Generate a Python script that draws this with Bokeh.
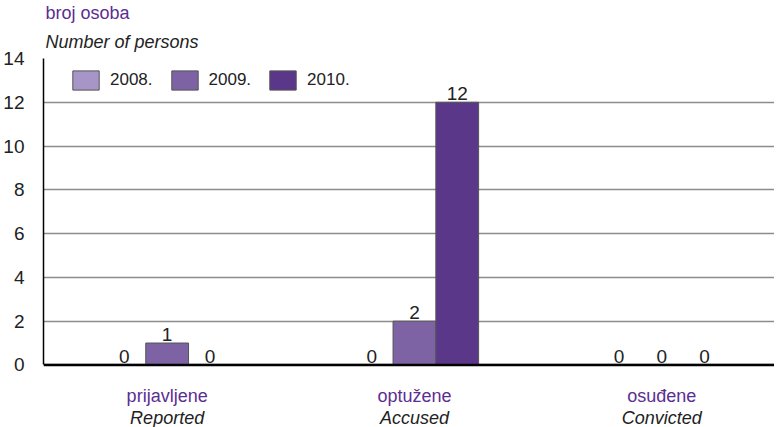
from bokeh.plotting import figure
from bokeh.models import (Range1d, FixedTicker, ColumnDataSource,
                          Legend, LegendItem, Title, Span)
from bokeh.core.properties import value
from bokeh.embed import file_html
from bokeh.resources import INLINE

categories_hr = ["prijavljene", "optužene", "osuđene"]
categories_en = ["Reported", "Accused", "Convicted"]
years = ["2008.", "2009.", "2010."]
values_2008 = [0, 0, 0]
values_2009 = [1, 2, 0]
values_2010 = [0, 12, 0]
y_ticks = [0, 2, 4, 6, 8, 10, 12, 14]

colors = ["#a695c6", "#7d63a3", "#5b3789"]
purple_text = "#5b2e91"
FONT = "Liberation Sans"

centers = [0.5, 1.5, 2.5]
bw = 0.173
offsets = [-bw, 0.0, bw]
series = [values_2008, values_2009, values_2010]

# y range extends below 0 so the category labels sit inside the frame
p = figure(width=774, height=427, output_backend="svg", toolbar_location=None,
           x_range=Range1d(0, 2.956), y_range=Range1d(-2.86, 14),
           x_axis_location=None, y_axis_location="left",
           min_border_left=38, min_border_right=0, min_border_top=0,
           min_border_bottom=0, outline_line_color=None)

p.xgrid.visible = False
p.ygrid.ticker = FixedTicker(ticks=y_ticks)
p.ygrid.grid_line_color = "#8c8c8c"
p.ygrid.grid_line_width = 1.5

ya = p.yaxis[0]
ya.ticker = FixedTicker(ticks=y_ticks)
ya.bounds = (0, 14)
ya.axis_line_color = "black"
ya.axis_line_width = 1.5
ya.major_tick_line_color = None
ya.minor_tick_line_color = None
ya.major_label_text_font = FONT
ya.major_label_text_font_size = "19px"
ya.major_label_text_color = "#222222"
ya.major_label_standoff = 13

renderers = []
for i, vals in enumerate(series):
    xs = [c + offsets[i] for c in centers]
    src = ColumnDataSource(dict(x=xs, top=vals, lab=[str(v) for v in vals]))
    r = p.vbar(x="x", top="top", width=bw, source=src, fill_color=colors[i],
               line_color="#555555", line_width=1)
    renderers.append(r)
    p.text(x="x", y="top", text="lab", source=src, text_align="center",
           text_baseline="bottom", y_offset=-2, text_font=value(FONT),
           text_font_size="19px", text_color="#222222")

# baseline (x axis line)
p.add_layout(Span(location=0, dimension="width", line_color="black", line_width=2.5))

# category labels
cat_src = ColumnDataSource(dict(x=centers, y=[0] * len(centers),
                                hr=categories_hr, en=categories_en))
p.text(x="x", y="y", text="hr", source=cat_src, text_align="center",
       text_baseline="middle", y_offset=31, text_font=value(FONT),
       text_font_size="18px", text_color=purple_text)
p.text(x="x", y="y", text="en", source=cat_src, text_align="center",
       text_baseline="middle", y_offset=53, text_font=value(FONT),
       text_font_size="18px", text_font_style="italic", text_color="#222222")

legend = Legend(items=[LegendItem(label=y, renderers=[r]) for y, r in zip(years, renderers)],
                orientation="horizontal", location=(26, 335),
                glyph_width=33, glyph_height=24, label_text_font=FONT,
                label_text_font_size="17px", label_text_color="#222222",
                spacing=15, label_standoff=8, padding=0, margin=0,
                border_line_color=None, background_fill_alpha=0)
p.add_layout(legend, "center")

t2 = Title(text="Number of persons", text_font=FONT, text_font_size="18px",
           text_font_style="italic", text_color="#222222", offset=2, standoff=14)
p.add_layout(t2, "above")
t1 = Title(text="broj osoba", text_font=FONT, text_font_size="18px",
           text_font_style="normal", text_color=purple_text, offset=2, standoff=0)
p.add_layout(t1, "above")

open("out.html", "w").write(file_html(p, INLINE))
